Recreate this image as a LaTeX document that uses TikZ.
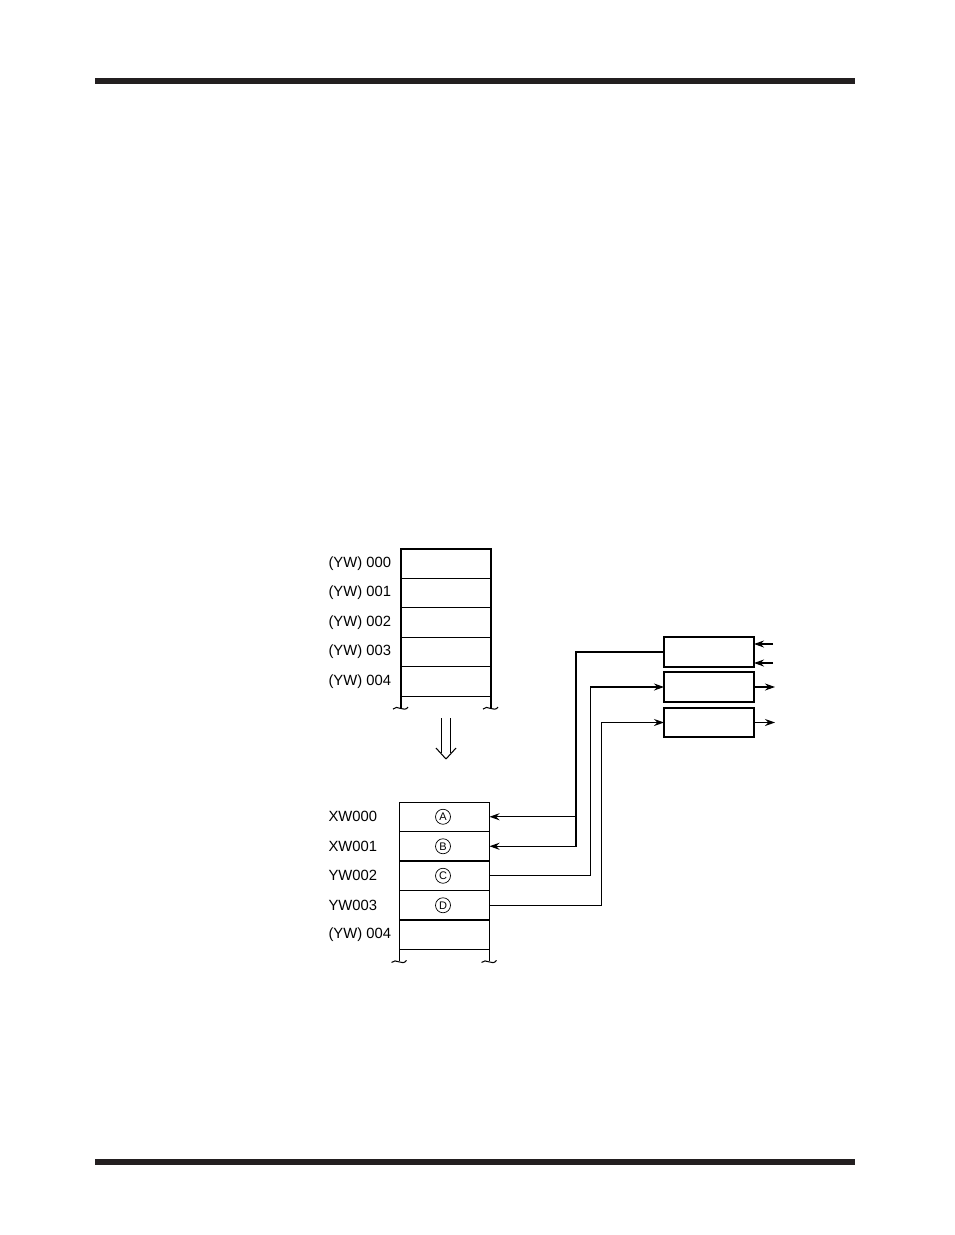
\documentclass[tikz,border=0pt]{standalone}
\usepackage{fontspec}
\setmainfont{Liberation Sans}
\usetikzlibrary{arrows.meta}

\definecolor{rulecol}{RGB}{35,31,32}

\tikzset{
	cell/.style={draw, rectangle, minimum width=90pt, minimum height=29.45pt, inner sep=0pt, outer sep=0pt},
	iobox/.style={draw, rectangle, minimum width=90pt, minimum height=30pt, inner sep=0pt, outer sep=0pt},
	lbl/.style={anchor=west, inner sep=0pt, font=\fontsize{14.8}{17}\selectfont},
	circ/.style={draw, circle, line width=0.7pt, minimum size=15pt, inner sep=0pt, font=\fontsize{11}{11}\selectfont},
	arr/.style={-{Stealth[length=10pt,width=7pt]}},
}

\begin{document}
\begin{tikzpicture}[x=1pt, y=-1pt, line width=1.05pt]

	% page size, fixed so the margins stay as in the page
	\useasboundingbox (0,0) rectangle (954,1235);

	% macro for the small break mark at the end of a cut stack
	\newcommand{\breakmark}[1]{
		\draw[shift={(#1)}] (-8,1) .. controls (-4,-4) and (3,5) .. (7,-1);
	}

	% heavy rules at top and bottom of the page
	\fill[rulecol] (95,78) rectangle (855,84);
	\fill[rulecol] (95,1159) rectangle (855,1165);

	% upper stack of words
	\foreach \i in {0,...,4}{
		\node[cell] (up\i) at (446,{563.7+29.4*\i}) {};
		\node[lbl] (uplbl\i) at (328,{563.7+29.4*\i}) {(YW) 00\i};
	}
	\draw (up4.south west) -- ++(0,12) coordinate (ubl);
	\draw (up4.south east) -- ++(0,12) coordinate (ubr);
	\breakmark{ubl}
	\breakmark{ubr}

	% hollow arrow between the two stacks
	\coordinate (hs) at (446,718);
	\coordinate (ht) at (446,759);
	\draw ([xshift=-4.5pt]hs) -- ([xshift=-4.5pt,yshift=6pt]ht);
	\draw ([xshift=4.5pt]hs) -- ([xshift=4.5pt,yshift=6pt]ht);
	\draw (ht) -- ++(-10,-11);
	\draw (ht) -- ++(10,-11);

	% lower stack of words with the assigned registers
	\foreach \i/\txt in {0/XW000, 1/XW001, 2/YW002, 3/YW003, 4/(YW) 004}{
		\node[cell] (low\i) at (444.5,{816.75+29.5*\i}) {};
		\node[lbl] (lowlbl\i) at (328,{816.75+29.5*\i}) {\txt};
	}
	\foreach \i/\ltr in {0/A, 1/B, 2/C, 3/D}{
		\node[circ] (m\ltr) at ([xshift=-1.5pt]low\i.center) {\ltr};
	}
	\draw (low4.south west) -- ++(0,12) coordinate (lbl);
	\draw (low4.south east) -- ++(0,12) coordinate (lbr);
	\breakmark{lbl}
	\breakmark{lbr}

	% input / output modules
	\node[iobox] (io1) at (709,652) {};
	\node[iobox] (io2) at (709,687) {};
	\node[iobox, minimum height=29pt] (io3) at (709,722.5) {};

	% module signals
	\coordinate (in1) at (773,644);
	\coordinate (in2) at (773,663);
	\draw[arr] (in1) -- (in1 -| io1.east);
	\draw[arr] (in2) -- (in2 -| io1.east);
	\draw[arr] (io2.east) -- ++(21,0);
	\draw[arr] (io3.east) -- ++(21,0);

	% links between modules and stack words
	\coordinate (bus) at ([xshift=-88pt]io1.west);
	\draw[arr] (io1.west) -- (bus) |- (low1.east);
	\draw[arr] (bus |- low0.east) -- (low0.east);
	\draw[arr] (low2.east) -- ++(101,0) |- (io2.west);
	\draw[arr] (low3.east) -- ++(112,0) |- (io3.west);

\end{tikzpicture}
\end{document}
